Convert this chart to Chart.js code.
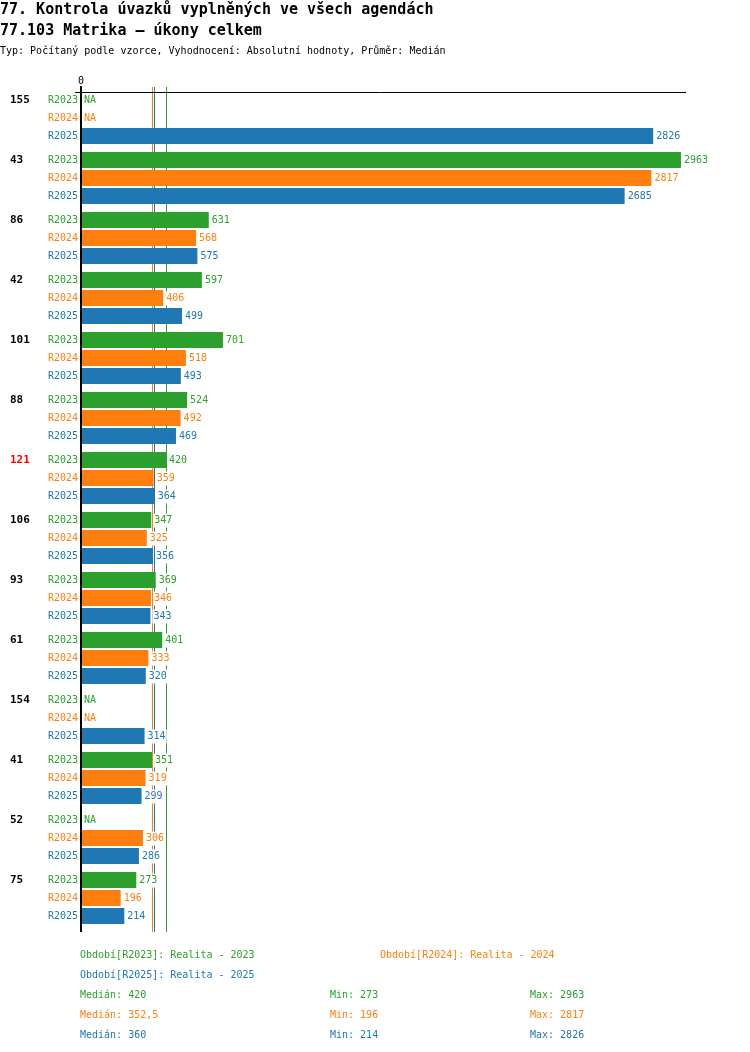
<!DOCTYPE html>
<html><head><meta charset="utf-8">
<script src="https://cdn.jsdelivr.net/npm/chart.js@4.4.1/dist/chart.umd.min.js"></script>
<style>
body{margin:0;background:#fff;}
#wrap{position:relative;width:750px;height:1052px;overflow:hidden;font-family:"DejaVu Sans Mono",monospace;color:#000;}
#c{position:absolute;left:0;top:0;}
.t{position:absolute;white-space:pre;}
.s10{font-size:10px;line-height:10px;}
</style></head><body>
<div id="wrap">
<canvas id="c" width="750" height="1052"></canvas>
<div class="t" style="left:0;top:1.5px;font-size:15px;line-height:15px;font-weight:bold">77. Kontrola úvazků vyplněných ve všech agendách</div>
<div class="t" style="left:0;top:22.5px;font-size:15px;line-height:15px;font-weight:bold">77.103 Matrika – úkony celkem</div>
<div class="t s10" style="left:0;top:46px">Typ: Počítaný podle vzorce, Vyhodnocení: Absolutní hodnoty, Průměr: Medián</div>
<div id="footer"></div>
</div>
<script>
const categories = ['155','43','86','42','101','88','121','106','93','61','154','41','52','75'];
const highlightCategories = ['121'];
const seriesNames = ['R2023','R2024','R2025'];
const seriesTitles = ['Realita - 2023','Realita - 2024','Realita - 2025'];
const r2023 = [null,2963,631,597,701,524,420,347,369,401,null,351,null,273];
const r2024 = [null,2817,568,406,518,492,359,325,346,333,null,319,306,196];
const r2025 = [2826,2685,575,499,493,469,364,356,343,320,314,299,286,214];
const seriesColors = ['#2ca02c','#ff7f0e','#1f77b4'];
const xMax = 2988;

const seriesData = [r2023, r2024, r2025];

function median(arr){
  const v = arr.filter(x => x !== null).sort((a,b)=>a-b);
  const n = v.length;
  return n % 2 ? v[(n-1)/2] : (v[n/2-1] + v[n/2]) / 2;
}
function fmt(v){ return String(v).replace('.', ','); }
const medians = seriesData.map(median);
const mins = seriesData.map(a => Math.min(...a.filter(x => x !== null)));
const maxs = seriesData.map(a => Math.max(...a.filter(x => x !== null)));

const FONT = '"DejaVu Sans Mono", monospace';

const overlay = {
  id: 'overlay',
  beforeDatasetsDraw(chart){
    const ctx = chart.ctx;
    const area = chart.chartArea;
    const xs = chart.scales.x;
    ctx.save();
    // median lines (behind bars)
    medians.forEach((m, i) => {
      const x = Math.round(xs.getPixelForValue(m)) + 0.5;
      ctx.strokeStyle = seriesColors[i];
      ctx.lineWidth = 1;
      ctx.beginPath();
      ctx.moveTo(x, area.top - 1);
      ctx.lineTo(x, area.bottom + 4);
      ctx.stroke();
    });
    ctx.restore();
  },
  afterDatasetsDraw(chart){
    const ctx = chart.ctx;
    const area = chart.chartArea;
    const xs = chart.scales.x;
    const x0 = xs.getPixelForValue(0);
    ctx.save();
    // top axis line
    ctx.strokeStyle = '#000';
    ctx.lineWidth = 1;
    ctx.beginPath();
    ctx.moveTo(x0 - 6, area.top + 4.5);
    ctx.lineTo(area.right, area.top + 4.5);
    ctx.stroke();
    // zero label
    ctx.fillStyle = '#000';
    ctx.font = '10px ' + FONT;
    ctx.textAlign = 'center';
    ctx.textBaseline = 'alphabetic';
    ctx.fillText('0', x0, area.top - 4);
    // value labels, series labels, category labels
    ctx.textBaseline = 'middle';
    seriesData.forEach((data, d) => {
      const meta = chart.getDatasetMeta(d);
      data.forEach((v, i) => {
        const el = meta.data[i];
        const y = el.y + 0.5;
        // series label
        ctx.font = '10px ' + FONT;
        ctx.textAlign = 'right';
        ctx.fillStyle = seriesColors[d];
        ctx.fillText(seriesNames[d], area.left - 3, y);
        // value label
        const txt = v === null ? 'NA' : String(v);
        const tx = (v === null ? x0 : xs.getPixelForValue(v)) + 3;
        const w = ctx.measureText(txt).width;
        ctx.fillStyle = '#fff';
        ctx.fillRect(tx - 1, y - 7, w + 2, 14);
        ctx.textAlign = 'left';
        ctx.fillStyle = seriesColors[d];
        ctx.fillText(txt, tx, y);
        // category label
        if (d === 0) {
          ctx.font = 'bold 11px ' + FONT;
          ctx.fillStyle = highlightCategories.includes(categories[i]) ? '#ff0000' : '#000';
          ctx.fillText(categories[i], 10, y);
        }
      });
    });
    // zero line
    ctx.strokeStyle = '#000';
    ctx.lineWidth = 2;
    ctx.beginPath();
    ctx.moveTo(x0, area.top - 2);
    ctx.lineTo(x0, area.bottom + 4);
    ctx.stroke();
    ctx.restore();
  }
};

new Chart(document.getElementById('c'), {
  type: 'bar',
  data: {
    labels: categories,
    datasets: seriesData.map((data, d) => ({
      label: seriesNames[d],
      data: data,
      backgroundColor: seriesColors[d],
      borderWidth: 0,
      categoryPercentage: 0.9,
      barPercentage: 16/18
    }))
  },
  options: {
    indexAxis: 'y',
    responsive: false,
    animation: false,
    devicePixelRatio: 1,
    layout: { padding: { left: 81, top: 88, right: 64, bottom: 124 } },
    scales: {
      x: { min: 0, max: xMax, display: false },
      y: { display: false }
    },
    plugins: { legend: { display: false }, tooltip: { enabled: false } }
  },
  plugins: [overlay]
});

// footer (legend + statistics)
const footer = document.getElementById('footer');
function addText(txt, left, baseline, color){
  const d = document.createElement('div');
  d.className = 't s10';
  d.style.left = left + 'px';
  d.style.top = (baseline - 8.5) + 'px';
  d.style.color = color;
  d.textContent = txt;
  footer.appendChild(d);
}
addText('Období[' + seriesNames[0] + ']: ' + seriesTitles[0], 80, 958, seriesColors[0]);
addText('Období[' + seriesNames[1] + ']: ' + seriesTitles[1], 380, 958, seriesColors[1]);
addText('Období[' + seriesNames[2] + ']: ' + seriesTitles[2], 80, 978, seriesColors[2]);
seriesData.forEach((a, d) => {
  const b = 998 + d * 20;
  addText('Medián: ' + fmt(medians[d]), 80, b, seriesColors[d]);
  addText('Min: ' + fmt(mins[d]), 330, b, seriesColors[d]);
  addText('Max: ' + fmt(maxs[d]), 530, b, seriesColors[d]);
});
</script>
</body></html>
